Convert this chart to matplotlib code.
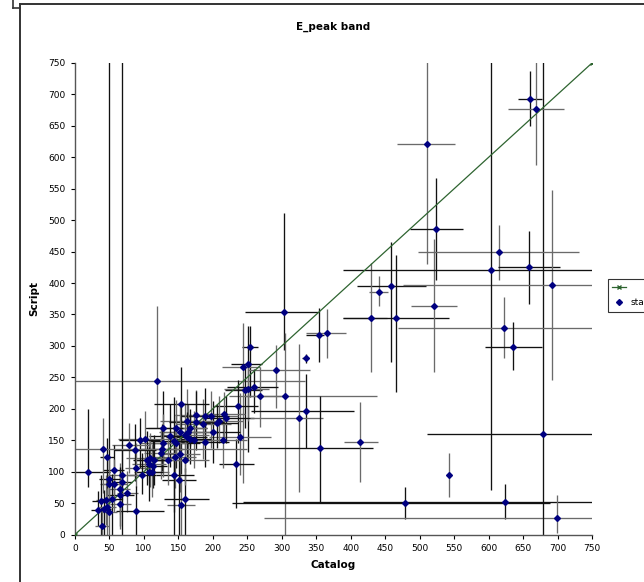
import matplotlib
matplotlib.use("Agg")
import matplotlib.pyplot as plt
from matplotlib.lines import Line2D
import numpy as np

# Catalog (x) and Script (y) values with asymmetric errors
catalog = [19, 119, 254, 243, 251, 291, 247, 251, 260, 268, 236, 239, 234, 215, 200, 216, 219, 209, 206, 197,
           188, 186, 189, 175, 176, 173, 167, 163, 167, 164, 162, 159, 154, 152, 147, 152, 151, 154, 159, 159,
           143, 145, 143, 146, 138, 135, 127, 128, 126, 125, 114, 109, 105, 107, 113, 111, 108, 102, 94, 79,
           87, 88, 97, 68, 68, 76, 89, 65, 65, 66, 56, 56, 50, 49, 46, 40, 53, 45, 37, 49,
           33, 39, 42, 47,
           303, 305, 353.5, 366, 334.6, 440.5, 459, 429, 466, 521, 335, 324.5, 356, 414, 478, 542, 624, 699, 679,
           510, 660, 669, 524, 615, 659, 692.5, 603, 622, 636]
script = [100, 244, 299, 267, 271, 261, 230, 231, 234, 221, 205, 155, 112, 151, 163, 192, 185, 180, 177, 188,
          188, 175, 147, 190, 179, 151, 152, 181, 170, 163, 155, 159, 207, 163, 146, 128, 87, 47, 56, 118,
          148, 124, 95, 169, 157, 119, 169, 146, 136, 129, 119, 121, 119, 112, 109, 99, 99, 152, 150, 143,
          135, 105, 95, 95, 84, 66, 37, 73, 63, 48, 102, 80, 89, 81, 124, 136, 56, 55, 54, 35,
          39, 14, 41, 44,
          354, 220, 318, 320, 280, 386, 395, 345, 345, 364, 196, 186, 137, 147, 50, 94, 52, 27, 160,
          621, 693, 677, 486, 449, 425, 397, 421, 329, 299]
x_err_minus = [19, 119, 12, 30, 25, 40, 30, 35, 40, 45, 35, 45, 25, 40, 40, 30, 35, 40, 30, 40,
               35, 40, 35, 30, 40, 35, 30, 40, 25, 40, 30, 35, 40, 30, 40, 30, 25, 20, 30, 30,
               35, 30, 25, 40, 30, 25, 25, 35, 30, 25, 30, 35, 20, 25, 20, 25, 20, 40, 30, 25,
               30, 15, 20, 20, 15, 15, 30, 15, 20, 15, 15, 20, 15, 12, 10, 40, 15, 15, 12, 12,
               10, 10, 10, 12,
               56, 58, 18, 31, 5, 14, 50, 40, 77, 33, 80, 70, 90, 24, 250, 0, 380, 425, 169,
               43, 17, 41, 38, 118, 46, 216, 214, 154, 41]
x_err_plus = [32, 214, 12, 25, 20, 50, 25, 30, 35, 40, 30, 45, 25, 35, 40, 30, 40, 35, 30, 40,
              35, 40, 35, 30, 40, 40, 30, 45, 25, 40, 30, 35, 40, 30, 35, 30, 25, 20, 35, 35,
              30, 30, 30, 45, 30, 25, 30, 35, 30, 25, 25, 35, 25, 25, 20, 25, 20, 40, 30, 30,
              30, 20, 20, 25, 15, 15, 40, 15, 20, 15, 15, 20, 15, 12, 10, 210, 15, 15, 12, 12,
              10, 10, 10, 12,
              49, 133, 7, 27, 5, 13.5, 50, 23, 77, 33, 70, 35, 76, 25, 211, 0, 130, 60, 80,
              41, 17, 40, 39, 116, 45, 80, 160, 150, 41]
y_err_minus = [25, 75, 80, 185, 140, 60, 60, 50, 40, 50, 60, 60, 70, 45, 50, 40, 40, 35, 40, 50,
               45, 55, 40, 40, 45, 45, 40, 60, 30, 45, 40, 60, 110, 50, 40, 60, 90, 50, 60, 40,
               160, 50, 60, 45, 50, 40, 50, 55, 35, 40, 40, 45, 40, 30, 35, 40, 45, 50, 45, 45,
               50, 30, 30, 40, 84, 30, 37, 40, 50, 40, 40, 45, 35, 40, 60, 70, 56, 40, 55, 35,
               25, 14, 41, 44,
               60, 220, 43, 39, 7, 22, 121, 86, 118, 106, 58, 118, 85, 64, 26, 35, 28, 25, 160,
               191, 44, 89, 81, 44, 58, 152, 350, 48, 37]
y_err_plus = [100, 120, 32, 70, 60, 40, 40, 45, 30, 45, 40, 70, 40, 40, 50, 35, 35, 40, 30, 40,
              45, 40, 45, 40, 50, 45, 40, 50, 30, 45, 40, 50, 60, 45, 45, 45, 60, 45, 50, 40,
              70, 50, 60, 45, 50, 40, 60, 45, 40, 40, 40, 40, 45, 35, 40, 45, 40, 45, 35, 35,
              40, 40, 35, 40, 700, 35, 40, 40, 45, 50, 40, 40, 700, 40, 30, 50, 40, 40, 40, 40,
              30, 30, 30, 30,
              158, 100, 43, 39, 7, 24.5, 70, 87, 100, 106, 60, 117, 83, 64, 26, 35, 28, 36, 700,
              200, 45, 150, 81, 43, 58, 151, 350, 48, 39]

x_ticks = list(range(0, 751, 50))
y_ticks = list(range(0, 751, 50))

plt.rcParams['font.family'] = ['DejaVu Sans']

fig = plt.figure(figsize=(6.44, 5.82), dpi=100)
ax = fig.add_axes([75 / 644, 1 - 534.5 / 582, (592 - 75) / 644, (534.5 - 63) / 582])

xe = np.array([x_err_minus, x_err_plus])
ye = np.array([y_err_minus, y_err_plus])
cols = ['#111111', '#6a6a6a']
for i in range(len(catalog)):
    c = cols[i % 2]
    ax.errorbar([catalog[i]], [script[i]], xerr=xe[:, i:i + 1], yerr=ye[:, i:i + 1],
                fmt='none', ecolor=c, elinewidth=0.95, capsize=0, zorder=2)

ax.plot([0, 750], [0, 750], color='#2E6430', lw=0.9, marker='x', ms=3,
        mec='#2E6430', zorder=3)
ax.plot(catalog, script, linestyle='none', marker='D', ms=3.0, color='#000080',
        mec='#000080', zorder=4)

ax.set_xlim(0, 750)
ax.set_ylim(0, 750)
ax.set_xticks(x_ticks)
ax.set_yticks(y_ticks)
ax.tick_params(axis='both', labelsize=6.5, length=3, width=0.8, direction='out',
               colors='#000000', pad=4)
for s in ['top', 'right']:
    ax.spines[s].set_visible(False)
for s in ['left', 'bottom']:
    ax.spines[s].set_color('#555555')
    ax.spines[s].set_linewidth(1.0)

ax.set_title('E_peak band', fontsize=7.5, fontweight='bold', pad=24)
ax.set_xlabel('Catalog', fontsize=7.5, fontweight='bold', labelpad=5)
ax.set_ylabel('Script', fontsize=7.5, fontweight='bold', labelpad=6)

# legend (clipped at right edge, as in the reference)
handles = [Line2D([0], [0], color='#2E6430', lw=0.9, marker='x', ms=3),
           Line2D([0], [0], linestyle='none', marker='D', ms=3.0, color='#000080')]
leg = fig.legend(handles, [' ', 'stats'], loc='upper left',
                 bbox_to_anchor=(603 / 644, 1 - 274 / 582), fontsize=6.5,
                 frameon=True, fancybox=False, edgecolor='#000000',
                 handlelength=1.6, handletextpad=0.5, borderpad=0.5, labelspacing=0.7)
leg.get_frame().set_linewidth(0.8)

# chart area border
W, H = 644, 582
fig.add_artist(Line2D([20 / W, 20 / W], [0, 1 - 4 / H], color='#333333', lw=1.4,
                      transform=fig.transFigure))
fig.add_artist(Line2D([20 / W, 1], [1 - 4 / H, 1 - 4 / H], color='#333333', lw=1.4,
                      transform=fig.transFigure))
fig.add_artist(Line2D([13 / W, 13 / W], [1, 1 - 8 / H], color='#333333', lw=1.2,
                      transform=fig.transFigure))
fig.add_artist(Line2D([13 / W, 20 / W], [1 - 8 / H, 1 - 8 / H], color='#333333', lw=1.2,
                      transform=fig.transFigure))

fig.savefig('out.png', dpi=100)
